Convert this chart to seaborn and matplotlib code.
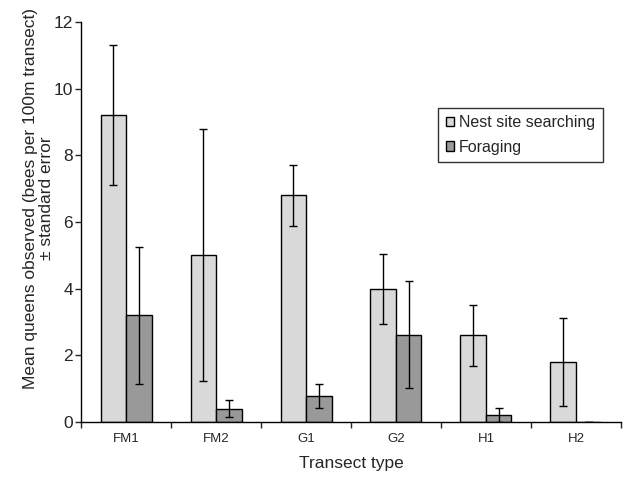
import pandas as pd
import numpy as np
import matplotlib.pyplot as plt
import seaborn as sns

# values
transects = ['FM1', 'FM2', 'G1', 'G2', 'H1', 'H2']
nest_mean = [9.2, 5.0, 6.8, 4.0, 2.6, 1.8]
nest_se = [2.1, 3.78, 0.92, 1.05, 0.92, 1.31]
forage_mean = [3.2, 0.4, 0.78, 2.62, 0.2, 0.0]
forage_se = [2.05, 0.25, 0.37, 1.6, 0.21, 0.0]
behaviours = ['Nest site searching', 'Foraging']

df = pd.DataFrame({
    'Transect': transects * 2,
    'Behaviour': [behaviours[0]] * len(transects) + [behaviours[1]] * len(transects),
    'Mean': nest_mean + forage_mean,
    'SE': nest_se + forage_se,
})

sns.set_style('white')
plt.rcParams['font.family'] = ['Liberation Sans', 'DejaVu Sans']

fig = plt.figure(figsize=(6.24, 4.78), dpi=100)
ax = fig.add_axes([0.13, 0.117, 0.865, 0.837])

sns.barplot(data=df, x='Transect', y='Mean', hue='Behaviour', order=transects,
            hue_order=behaviours, palette=['#d9d9d9', '#999999'], width=0.567,
            edgecolor='black', linewidth=1, errorbar=None, ax=ax)

# error bars placed on bar centres
for container, beh in zip(ax.containers, behaviours):
    sub = df[df['Behaviour'] == beh].set_index('Transect').loc[transects]
    xs = [p.get_x() + p.get_width() / 2 for p in container.patches]
    ax.errorbar(xs, sub['Mean'], yerr=sub['SE'], fmt='none', ecolor='black',
                elinewidth=1, capsize=3.2, capthick=1)

ax.set_xlim(-0.5, 5.5)
ax.set_ylim(0, 12)
ax.set_yticks(range(0, 13, 2))
ax.set_xticks(np.arange(-0.5, 6, 1), minor=True)
ax.tick_params(axis='x', which='major', length=0, labelsize=9.5, pad=8)
ax.tick_params(axis='x', which='minor', length=4, width=1, direction='out', bottom=True)
ax.tick_params(axis='y', length=4, width=1, direction='out', labelsize=12.5, left=True, pad=2)

for side in ['top', 'right']:
    ax.spines[side].set_visible(False)
for side in ['left', 'bottom']:
    ax.spines[side].set_color('black')
    ax.spines[side].set_linewidth(1)

ax.set_xlabel('Transect type', fontsize=12.5, labelpad=8)
ax.set_ylabel('Mean queens observed (bees per 100m transect)\n\u00b1 standard error',
              fontsize=12.5, linespacing=1.1)
ax.yaxis.set_label_coords(-0.05, 0.56)

leg = ax.legend(loc='upper left', bbox_to_anchor=(0.662, 0.785), fontsize=11.5,
                frameon=True, fancybox=False, edgecolor='black', handlelength=0.55,
                handleheight=0.55, handletextpad=0.3, borderpad=0.45, labelspacing=0.6,
                borderaxespad=0)
leg.get_frame().set_linewidth(1)

plt.savefig('out.png', dpi=100)
